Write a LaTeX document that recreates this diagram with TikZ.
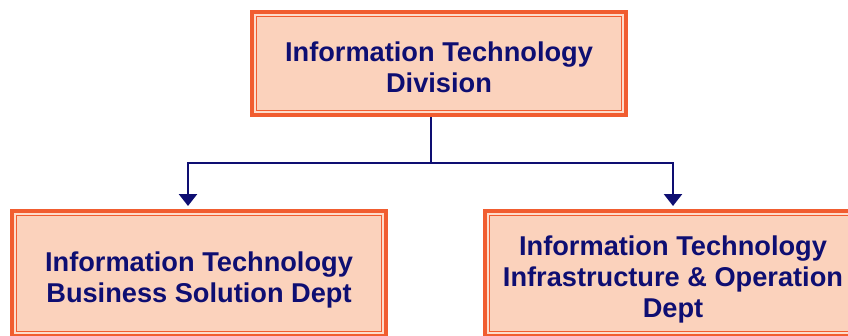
\documentclass[tikz,border=0pt]{standalone}
\usepackage{fontspec}
\setmainfont{Liberation Sans}
\usetikzlibrary{arrows.meta}

\definecolor{boxorange}{HTML}{F15D30}
\definecolor{boxpeach}{HTML}{FBD2BC}
\definecolor{boxlight}{HTML}{FDDCCB}
\definecolor{navyink}{HTML}{0E0E72}

% struts that seat the text a little low in each box
\newcommand\liftline{\rule{0pt}{32pt}}
\newcommand\sinkline{\rule[-6pt]{0pt}{6pt}}

\tikzset{
  unitbox/.style={draw=boxorange, line width=4pt, fill=boxpeach,
    text=navyink, align=center, inner sep=0pt,
    font=\bfseries\fontsize{27.2}{31}\selectfont,
    path picture={%
      \draw[boxlight, line width=2.4pt]
        ([shift={(3pt,-3pt)}]path picture bounding box.north west) rectangle
        ([shift={(-3pt,3pt)}]path picture bounding box.south east);
      \draw[boxorange, line width=1.2pt]
        ([shift={(4.6pt,-4.6pt)}]path picture bounding box.north west) rectangle
        ([shift={(-4.6pt,4.6pt)}]path picture bounding box.south east);
    }},
  wire/.style={draw=navyink, line width=2.6pt},
  feed/.style={wire, -{Triangle[width=18pt,length=12pt]}, shorten >=3pt}
}

\begin{document}
\begin{tikzpicture}[x=1pt, y=1pt]
    \useasboundingbox (0,0) rectangle (848,-335);

    % division and its two departments
    \node[unitbox, minimum width=374pt, minimum height=103pt] (itd) at (439,-63.5)
      {\liftline Information Technology\\Division\sinkline};
    \node[unitbox, minimum width=374pt, minimum height=125pt] (bsd) at (199,-273.5)
      {\liftline Information Technology\\Business Solution Dept\sinkline};
    \node[unitbox, minimum width=376pt, minimum height=125pt] (iod) at (673,-273.5)
      {\liftline Information Technology\\Infrastructure \& Operation\\Dept\sinkline};

    % branching connector
    \coordinate (split) at (431,-163);
    \draw[wire] (split |- itd.south) -- (split);
    \draw[feed] (split) -| ([xshift=-11pt]bsd.north);
    \draw[feed] (split) -| (iod.north);
\end{tikzpicture}
\end{document}
